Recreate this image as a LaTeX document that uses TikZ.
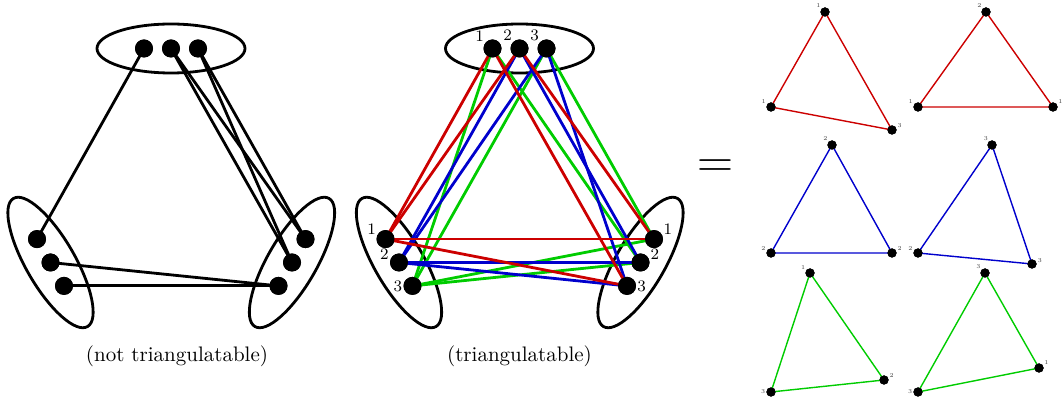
\documentclass[tikz,border=0pt]{standalone}
\usepackage{fontspec}
\definecolor{cr}{RGB}{204,0,0}
\definecolor{cb}{RGB}{0,0,204}
\definecolor{cg}{RGB}{0,204,0}
\begin{document}
\begin{tikzpicture}[x=0.5pt,y=-0.5pt,
  grp/.style={draw=black, line width=1.4pt},
  dot/.style={circle, fill=black, inner sep=0pt, minimum size=9pt, label distance=1.5pt},
  sdot/.style={circle, fill=black, inner sep=0pt, minimum size=4.6pt, label distance=1.2pt},
  lnk/.style={line width=1.4pt},
  slnk/.style={line width=0.7pt},
  mlab/.style={font=\fontsize{8}{8}\selectfont, inner sep=0.3pt},
  slab/.style={font=\fontsize{3}{3}\selectfont, inner sep=0.2pt, text=black!75},
  captext/.style={font=\fontsize{10.5}{12}\selectfont}]
\useasboundingbox (0,0) rectangle (1062,400);

% ---------- left diagram ----------
\draw[grp] (171,48.5) ellipse [x radius=74, y radius=24.5];
\draw[grp, rotate around={-60:(50.5,262.5)}] (50.5,262.5) ellipse [x radius=74, y radius=24.5];
\draw[grp, rotate around={60:(292,262.5)}] (292,262.5) ellipse [x radius=74, y radius=24.5];

\node[dot] (at1) at (144,48.5) {};
\node[dot] (at2) at (171,48.5) {};
\node[dot] (at3) at (198,48.5) {};
\node[dot] (al1) at (37,239.1) {};
\node[dot] (al2) at (50.5,262.5) {};
\node[dot] (al3) at (64,285.9) {};
\node[dot] (ar1) at (305.5,239.1) {};
\node[dot] (ar2) at (292,262.5) {};
\node[dot] (ar3) at (278.5,285.9) {};

\draw[lnk] (at1.center) -- (al1.center);
\draw[lnk] (at2.center) -- (ar1.center);
\draw[lnk] (at2.center) -- (ar2.center);
\draw[lnk] (at3.center) -- (ar1.center);
\draw[lnk] (at3.center) -- (ar2.center);
\draw[lnk] (al2.center) -- (ar3.center);
\draw[lnk] (al3.center) -- (ar3.center);
\foreach \n in {at1,at2,at3,al1,al2,al3,ar1,ar2,ar3} \fill (\n) circle [radius=4.5pt];

\node[captext] (cap1) at (177,356) {(not triangulatable)};

% ---------- middle diagram ----------
\draw[grp] (519.5,48.5) ellipse [x radius=74, y radius=24.5];
\draw[grp, rotate around={-60:(399,262.5)}] (399,262.5) ellipse [x radius=74, y radius=24.5];
\draw[grp, rotate around={60:(640.5,262.5)}] (640.5,262.5) ellipse [x radius=74, y radius=24.5];

\node[dot, label={[mlab]143:1}] (mt1) at (492.5,48.5) {};
\node[dot, label={[mlab]135:2}] (mt2) at (519.5,48.5) {};
\node[dot, label={[mlab]135:3}] (mt3) at (546.5,48.5) {};
\node[dot, label={[mlab]155:1}] (ml1) at (385.5,239.1) {};
\node[dot, label={[mlab]170:2}] (ml2) at (399,262.5) {};
\node[dot, label={[mlab]180:3}] (ml3) at (412.5,285.9) {};
\node[dot, label={[mlab]25:1}] (mr1) at (654,239.1) {};
\node[dot, label={[mlab]13:2}] (mr2) at (640.5,262.5) {};
\node[dot, label={[mlab]0:3}] (mr3) at (627,285.9) {};

% green
\draw[lnk, cg] (mt1.center) -- (ml3.center);
\draw[lnk, cg] (mt1.center) -- (mr2.center);
\draw[lnk, cg] (ml3.center) -- (mr2.center);
\draw[lnk, cg] (mt3.center) -- (ml3.center);
\draw[lnk, cg] (mt3.center) -- (mr1.center);
\draw[lnk, cg] (ml3.center) -- (mr1.center);
% blue
\draw[lnk, cb] (mt2.center) -- (ml2.center);
\draw[lnk, cb] (mt2.center) -- (mr2.center);
\draw[lnk, cb] (ml2.center) -- (mr2.center);
\draw[lnk, cb] (mt3.center) -- (ml2.center);
\draw[lnk, cb] (mt3.center) -- (mr3.center);
\draw[lnk, cb] (ml2.center) -- (mr3.center);
% red
\draw[lnk, cr] (mt1.center) -- (ml1.center);
\draw[lnk, cr] (mt1.center) -- (mr3.center);
\draw[lnk, cr] (ml1.center) -- (mr3.center);
\draw[lnk, cr] (mt2.center) -- (ml1.center);
\draw[lnk, cr] (mt2.center) -- (mr1.center);
\draw[lnk, cr] (ml1.center) -- (mr1.center);
\foreach \n in {mt1,mt2,mt3,ml1,ml2,ml3,mr1,mr2,mr3} \fill (\n) circle [radius=4.5pt];

\node[captext] (cap2) at (519.5,356) {(triangulatable)};

% ---------- equals ----------
\node[font=\fontsize{25}{25}\selectfont, inner sep=0pt] (eq) at (715,169) {=};

% ---------- right triangles ----------
% red 1
\node[sdot, label={[slab]139:1}] (ra1) at (825,12) {};
\node[sdot, label={[slab]153:1}] (rb1) at (771,107) {};
\node[sdot, label={[slab]15:3}] (rc1) at (892,130) {};
\draw[slnk, cr] (ra1.center) -- (rb1.center) -- (rc1.center) -- cycle;
% red 2
\node[sdot, label={[slab]139:2}] (ra2) at (986,12) {};
\node[sdot, label={[slab]153:1}] (rb2) at (918,107) {};
\node[sdot, label={[slab]27:1}] (rc2) at (1053,107) {};
\draw[slnk, cr] (ra2.center) -- (rb2.center) -- (rc2.center) -- cycle;
% blue 1
\node[sdot, label={[slab]140:2}] (ba1) at (832,145) {};
\node[sdot, label={[slab]160:2}] (bb1) at (771,253) {};
\node[sdot, label={[slab]20:2}] (bc1) at (892,253) {};
\draw[slnk, cb] (ba1.center) -- (bb1.center) -- (bc1.center) -- cycle;
% blue 2
\node[sdot, label={[slab]130:3}] (ba2) at (992,145) {};
\node[sdot, label={[slab]160:2}] (bb2) at (918,253) {};
\node[sdot, label={[slab]7:3}] (bc2) at (1032,264) {};
\draw[slnk, cb] (ba2.center) -- (bb2.center) -- (bc2.center) -- cycle;
% green 1
\node[sdot, label={[slab]143:1}] (ga1) at (810,273) {};
\node[sdot, label={[slab]180:3}] (gb1) at (771,392) {};
\node[sdot, label={[slab]18:2}] (gc1) at (884,380) {};
\draw[slnk, cg] (ga1.center) -- (gb1.center) -- (gc1.center) -- cycle;
% green 2
\node[sdot, label={[slab]140:3}] (ga2) at (985,273) {};
\node[sdot, label={[slab]180:3}] (gb2) at (918,392) {};
\node[sdot, label={[slab]27:1}] (gc2) at (1039,368) {};
\draw[slnk, cg] (ga2.center) -- (gb2.center) -- (gc2.center) -- cycle;
\foreach \n in {ra1,rb1,rc1,ra2,rb2,rc2,ba1,bb1,bc1,ba2,bb2,bc2,ga1,gb1,gc1,ga2,gb2,gc2} \fill (\n) circle [radius=2.3pt];
\end{tikzpicture}
\end{document}
